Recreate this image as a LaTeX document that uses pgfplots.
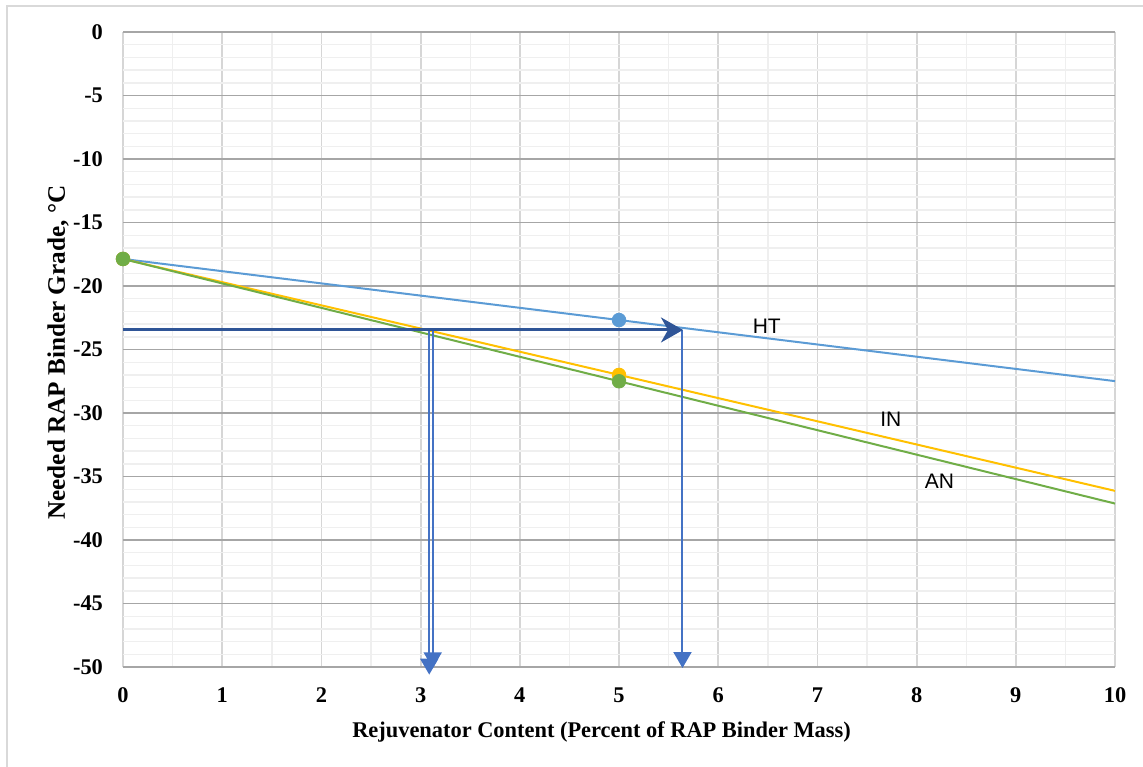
\documentclass[border=0pt]{standalone}
\usepackage{fontspec}
\setmainfont{Liberation Serif}
\newfontfamily\arialf{Liberation Sans}
\usepackage{pgfplots}
\pgfplotsset{compat=1.18}
\usetikzlibrary{arrows.meta}
\definecolor{cHT}{HTML}{5B9BD5}
\definecolor{cIN}{HTML}{FFC000}
\definecolor{cAN}{HTML}{70AD47}
\definecolor{cArr}{HTML}{2F5597}
\definecolor{cVer}{HTML}{4472C4}
\definecolor{cHmaj}{HTML}{A6A6A6}
\definecolor{cVmaj}{HTML}{D6D6D6}
\definecolor{cMin}{HTML}{EFEFEF}
\definecolor{cBorder}{HTML}{D9D9D9}
\begin{document}
\begin{tikzpicture}
\path[use as bounding box] (-61.5pt,-49.5pt) rectangle (510pt,333.5pt);
\draw[cBorder, line width=0.9pt] (-58pt,-60pt) -- (-58pt,330.5pt) -- (520pt,330.5pt);
\begin{axis}[
 at={(0,0)}, anchor=south west,
 scale only axis, width=496pt, height=317.5pt,
 xmin=0, xmax=10, ymin=-50, ymax=0,
 xtick={0,...,10}, ytick={-50,-45,...,0},
 minor x tick num=1, minor y tick num=4,
 grid=both,
 major x grid style={draw=cVmaj, line width=0.9pt},
 major y grid style={draw=cHmaj, line width=0.9pt},
 minor grid style={draw=cMin, line width=0.7pt},
 axis line style={draw=none},
 major tick length=0pt, minor tick length=0pt,
 tick style={draw=none},
 ticklabel style={font=\fontsize{11.2}{13}\selectfont\bfseries},
 /pgf/number format/assume math mode=true,
 yticklabel style={xshift=-6.5pt},
 xticklabel style={yshift=-7pt},
 xlabel={Rejuvenator Content (Percent of RAP Binder Mass)},
 xlabel style={font=\fontsize{11.2}{13}\selectfont\bfseries, at={(axis description cs:0.4824,0)}, anchor=center, yshift=-32.5pt},
 ylabel={Needed RAP Binder Grade, °C},
 ylabel style={font=\fontsize{12.6}{14}\selectfont\bfseries, at={(axis description cs:-0.0655,0.495)}, anchor=center},
 clip=false,
]
% trend lines
\addplot[cHT, line width=1pt, no marks] coordinates {(0,-17.87) (10,-27.49)};
\addplot[cIN, line width=1pt, no marks] coordinates {(0,-17.87) (10,-36.13)};
\addplot[cAN, line width=1pt, no marks] coordinates {(0,-17.87) (10,-37.13)};
% data points
\addplot[only marks, mark=*, mark size=3.4pt, color=cHT] coordinates {(0,-17.87) (5,-22.68)};
\addplot[only marks, mark=*, mark size=3.4pt, color=cIN] coordinates {(0,-17.87) (5,-27.0)};
\addplot[only marks, mark=*, mark size=3.4pt, color=cAN] coordinates {(0,-17.87) (5,-27.5)};
% vertical arrows
\addplot[cVer, line width=1pt, no marks, -{Triangle[length=8pt,width=9pt]}] coordinates {(3.087,-23.46) (3.087,-50.6)};
\addplot[cVer, line width=1pt, no marks, -{Triangle[length=8pt,width=9pt]}] coordinates {(3.122,-23.46) (3.122,-50.1)};
\addplot[cVer, line width=1pt, no marks, -{Triangle[length=8pt,width=9pt]}] coordinates {(5.64,-23.46) (5.64,-50.08)};
% horizontal arrow
\addplot[cArr, line width=1.5pt, no marks, -{Stealth[length=11pt,width=12.5pt,inset=3.5pt]}] coordinates {(0,-23.46) (5.645,-23.46)};
% labels
\node[font=\arialf\fontsize{10.5}{12}\selectfont] at (axis cs:6.49,-23.15) {HT};
\node[font=\arialf\fontsize{10.5}{12}\selectfont] at (axis cs:7.74,-30.5) {IN};
\node[font=\arialf\fontsize{10.5}{12}\selectfont] at (axis cs:8.23,-35.35) {AN};
\end{axis}
\end{tikzpicture}
\end{document}
